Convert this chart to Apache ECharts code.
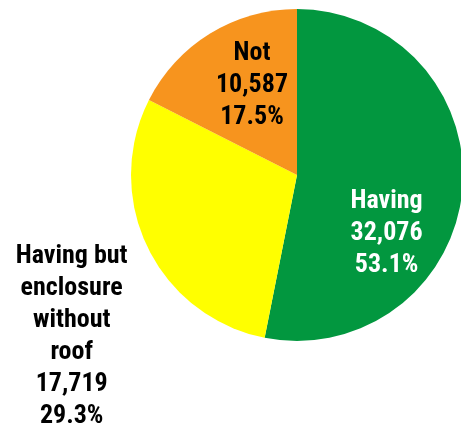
<!DOCTYPE html>
<html>
<head>
<meta charset="utf-8">
<script src="https://cdn.jsdelivr.net/npm/echarts@6/dist/echarts.min.js"></script>
<style>
html,body{margin:0;padding:0;background:#fff;}
#c{width:461px;height:428px;}
</style>
</head>
<body>
<div id="c"></div>
<script>
var categories = ['Having', 'Having but\nenclosure\nwithout\nroof', 'Not'];
var values = [32076, 17719, 10587];
var colors = ['#02973F', '#FFFF00', '#F7941E'];
var labelColors = ['#FFFFFF', '#000000', '#000000'];
var labelShift = [[4, 50], [-148, 124], [0, -16]];

var total = values.reduce(function (a, b) { return a + b; }, 0);

var chart = echarts.init(document.getElementById('c'), null, {renderer: 'canvas'});
var FONT = "'Liberation Sans Narrow', 'Arial Narrow', 'Roboto Condensed', Roboto, sans-serif";

chart.setOption({
  animation: false,
  backgroundColor: '#ffffff',
  series: [{
    type: 'pie',
    center: [297, 175],
    radius: [0, 166],
    startAngle: 90,
    clockwise: true,
    avoidLabelOverlap: false,
    label: {
      show: true,
      position: 'inside',
      fontFamily: FONT,
      fontWeight: 'bold',
      fontSize: 26,
      lineHeight: 32,
      align: 'center',
      formatter: function (p) {
        var pct = (p.value / total * 100).toFixed(1);
        return p.name + '\n' + p.value.toLocaleString('en-US') + '\n' + pct + '%';
      }
    },
    labelLine: {show: false},
    labelLayout: function (params) {
      var s = labelShift[params.dataIndex];
      return {dx: s[0], dy: s[1]};
    },
    emphasis: {disabled: true},
    data: categories.map(function (n, i) {
      return {
        name: n,
        value: values[i],
        itemStyle: {color: colors[i], borderWidth: 0},
        label: {color: labelColors[i]}
      };
    })
  }]
});
</script>
</body>
</html>
